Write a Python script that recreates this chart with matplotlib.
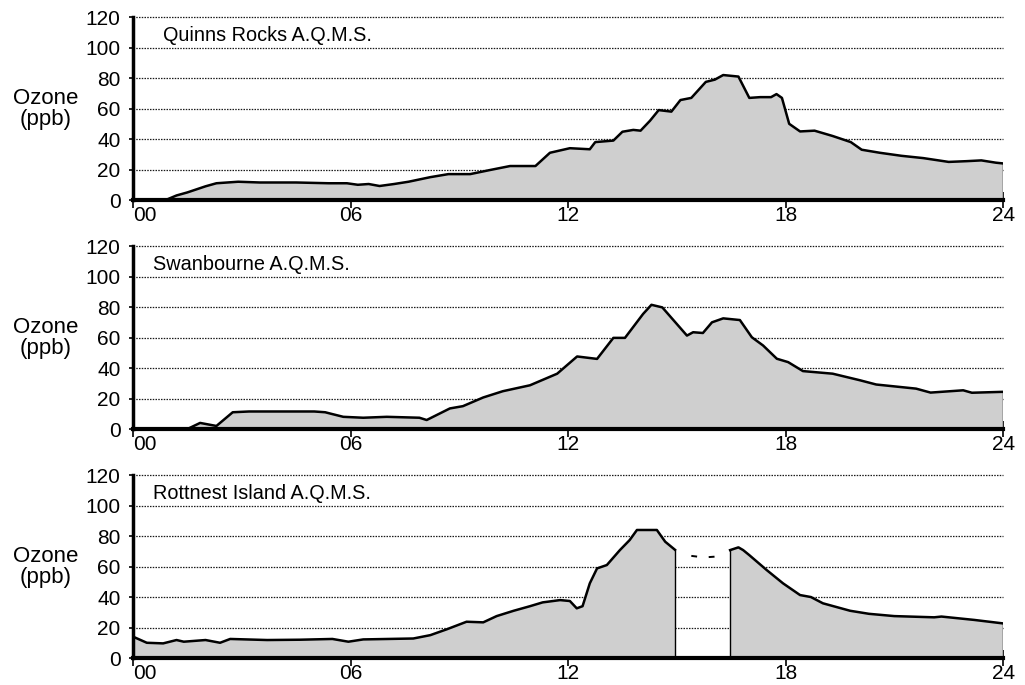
import numpy as np
import matplotlib.pyplot as plt

plt.rcParams['font.family'] = ['Liberation Sans', 'DejaVu Sans']

# hourly ozone traces (hour of day, ppb)
quinns_hours = [0, 0.9, 1.2, 1.5, 2.0, 2.3, 2.9, 3.5, 4.5, 5.4, 5.9, 6.2, 6.5, 6.8, 7.2,
                7.6, 8.2, 8.7, 9.3, 9.85, 10.4, 11.1, 11.5, 12.05, 12.6, 12.75, 13.25,
                13.5, 13.8, 14.0, 14.26, 14.5, 14.85, 15.1, 15.4, 15.8, 16.05, 16.28,
                16.7, 17.0, 17.3, 17.6, 17.75, 17.9, 18.1, 18.4, 18.8, 19.3, 19.8, 20.1,
                20.6, 21.2, 21.8, 22.5, 23.0, 23.4, 23.8, 24]
quinns_ozone = [0, 0, 3, 5, 9, 11, 12, 11.5, 11.5, 11, 11, 10, 10.5, 9.2, 10.5,
                12, 15, 17, 17, 19.7, 22.3, 22.3, 31, 34, 33.3, 38, 39,
                44.8, 46, 45.5, 52, 59, 58, 65.6, 67, 77.5, 79, 82,
                81, 67, 67.5, 67.5, 69.5, 67, 50, 45, 45.5, 42, 38, 33,
                31, 29, 27.5, 25, 25.5, 26, 24.5, 24]

swan_hours = [0, 1.5, 1.85, 2.3, 2.75, 3.2, 4.2, 5.0, 5.3, 5.43, 5.8, 6.35, 7.0, 7.9,
              8.1, 8.74, 9.1, 9.66, 10.2, 10.95, 11.7, 12.25, 12.8, 13.25, 13.57,
              14.07, 14.3, 14.6, 15.28, 15.45, 15.72, 15.97, 16.28, 16.74, 17.07,
              17.38, 17.76, 18.07, 18.48, 19.3, 20.05, 20.5, 21.6, 22.0, 22.9, 23.14, 24]
swan_ozone = [0, 0, 4, 2, 11, 11.5, 11.5, 11.5, 11, 10.2, 8, 7.4, 8, 7.4,
              5.9, 13.5, 15, 20.7, 24.8, 28.7, 36.3, 47.6, 46, 59.8, 59.8,
              75.5, 81.5, 79.8, 61.3, 63.5, 63, 70, 72.6, 71.5, 60.2,
              54.8, 46.1, 43.9, 38, 36.3, 32, 29.2, 26.5, 23.9, 25.4, 23.8, 24.4]

# Rottnest has a break in the record mid afternoon
rott_hours_a = [0, 0.38, 0.83, 1.2, 1.4, 2.0, 2.4, 2.68, 3.7, 4.6, 5.5, 5.94, 6.35, 7.73,
                8.2, 8.65, 9.2, 9.66, 10.03, 10.5, 10.95, 11.3, 11.78, 12.05, 12.24,
                12.4, 12.6, 12.8, 13.07, 13.43, 13.7, 13.9, 14.45, 14.68, 14.95]
rott_ozone_a = [14, 10, 9.6, 11.8, 10.7, 11.8, 10, 12.5, 11.8, 12, 12.5, 10.7, 12.2, 12.8,
                15, 18.8, 23.8, 23.4, 27.5, 31, 34, 36.5, 38, 37.4, 32.6,
                34, 49, 58.8, 61, 70.8, 77.4, 84, 84, 76.3, 71]
rott_hours_b = [16.47, 16.7, 16.83, 17.0, 17.48, 17.93, 18.4, 18.7, 19.03, 19.78, 20.3,
                21.0, 22.1, 22.3, 23.2, 24]
rott_ozone_b = [70.8, 72.6, 70.8, 67.5, 57.7, 49, 41.3, 40, 35.9, 31, 29,
                27.5, 26.7, 27.2, 25, 22.7]
# guessed course through the missing hours
gap_hours = [15.4, 15.75, 16.05, 16.25]
gap_ozone = [67, 66, 66.5, 67.5]

stations = ['Quinns Rocks A.Q.M.S.', 'Swanbourne A.Q.M.S.', 'Rottnest Island A.Q.M.S.']
series = [[(quinns_hours, quinns_ozone)],
          [(swan_hours, swan_ozone)],
          [(rott_hours_a, rott_ozone_a), (rott_hours_b, rott_ozone_b)]]
x_ticks = [0, 6, 12, 18, 24]
x_labels = ['00', '06', '12', '18', '24']
y_ticks = [0, 20, 40, 60, 80, 100, 120]
title_x = [0.83, 0.55, 0.55]

fig = plt.figure(figsize=(10.25, 6.85), dpi=100)
bottoms = [0.708, 0.3737, 0.0394]

for i, name in enumerate(stations):
    ax = fig.add_axes([0.1298, bottoms[i], 0.8488, 0.267])
    ax.set_xlim(0, 24)
    ax.set_ylim(0, 120)

    for yv in y_ticks[1:]:
        ax.axhline(yv, color='#1a1a1a', lw=0.9, ls=(0, (1.2, 1.0)), zorder=1, clip_on=False)

    for hrs, vals in series[i]:
        xs = list(hrs) + [hrs[-1], hrs[0]]
        ys = list(vals) + [0, 0]
        ax.fill(xs, ys, facecolor='#cfcfcf', edgecolor='none', zorder=2)
        ax.plot(hrs, vals, color='black', lw=1.8, zorder=3)
        if hrs[0] > 0:
            ax.plot([hrs[0], hrs[0]], [0, vals[0]], color='black', lw=1.0, zorder=3)
        ax.plot([hrs[-1], hrs[-1]], [0, vals[-1]], color='black', lw=1.0, zorder=3)

    if i == 2:
        ax.plot(gap_hours, gap_ozone, color='black', lw=1.4, ls=(0, (3, 6)), zorder=3)

    ax.text(title_x[i], 108, name, fontsize=14.3, va='center', ha='left', zorder=4)
    ax.text(-0.1, 0.5, 'Ozone\n(ppb)', transform=ax.transAxes, fontsize=16,
            ha='center', va='center', linespacing=1.0)

    for side in ['top', 'right']:
        ax.spines[side].set_visible(False)
    ax.spines['left'].set_linewidth(2.5)
    ax.spines['bottom'].set_linewidth(3)
    ax.spines['left'].set_zorder(5)
    ax.spines['bottom'].set_zorder(5)

    ax.set_xticks(x_ticks)
    ax.set_xticklabels(x_labels)
    ax.set_yticks(y_ticks)
    ax.tick_params(axis='y', direction='out', length=3, width=1.2, pad=6, labelsize=15)
    ax.tick_params(axis='x', direction='inout', length=12, width=1.2, pad=-2, labelsize=15)
    ax.get_xticklabels()[0].set_horizontalalignment('left')

fig.savefig('out.png', dpi=100)
